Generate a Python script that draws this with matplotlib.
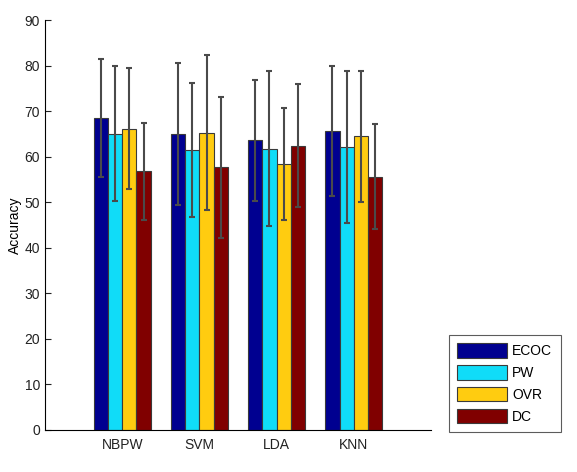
import numpy as np
import matplotlib.pyplot as plt

classifiers = ['NBPW', 'SVM', 'LDA', 'KNN']
methods = ['ECOC', 'PW', 'OVR', 'DC']

ecoc = [68.5, 65.0, 63.6, 65.6]
pw = [65.0, 61.4, 61.7, 62.1]
ovr = [66.1, 65.3, 58.4, 64.5]
dc = [56.8, 57.7, 62.4, 55.6]

ecoc_err = [12.9, 15.6, 13.3, 14.2]
pw_err = [14.8, 14.7, 17.0, 16.6]
ovr_err = [13.3, 17.0, 12.3, 14.4]
dc_err = [10.7, 15.5, 13.5, 11.5]

colors = ['#000090', '#10DCF8', '#FFCC10', '#800000']

plt.rcParams['font.family'] = ['Liberation Sans', 'DejaVu Sans']

fig = plt.figure(figsize=(5.77, 4.72), dpi=100)
ax = fig.add_axes([0.078, 0.089, 0.669, 0.8686])

x = np.arange(1, len(classifiers) + 1)
w = 0.185
series = [ecoc, pw, ovr, dc]
errs = [ecoc_err, pw_err, ovr_err, dc_err]
for i, (vals, err) in enumerate(zip(series, errs)):
    pos = x + (i - 1.5) * w
    ax.bar(pos, vals, w, color=colors[i], edgecolor='#3a3a3a', linewidth=0.8,
           label=methods[i], zorder=2)
    ax.errorbar(pos, vals, yerr=err, fmt='none', ecolor='#4a4a4a',
                elinewidth=1.5, capsize=2.3, capthick=1.5, zorder=3)

ax.set_xlim(0, 5)
ax.set_ylim(0, 90)
ax.set_yticks(range(0, 91, 10))
ax.set_xticks(x)
ax.set_xticklabels(classifiers)
ax.tick_params(axis='y', direction='in', length=4, labelsize=10, colors='#222222')
ax.tick_params(axis='x', length=0, labelsize=10, colors='#222222', pad=6)
ax.spines['top'].set_visible(False)
ax.spines['right'].set_visible(False)
ax.set_ylabel('Accuracy', fontsize=10, labelpad=2)

leg = ax.legend(loc='lower left', bbox_to_anchor=(1.047, -0.005), fontsize=10,
                frameon=True, fancybox=False, handlelength=3.6, handleheight=1.22,
                handletextpad=0.35, labelspacing=0.5, borderpad=0.6,
                borderaxespad=0)
leg.get_frame().set_edgecolor('#333333')
leg.get_frame().set_linewidth(0.8)

fig.savefig('out.png', dpi=100)
